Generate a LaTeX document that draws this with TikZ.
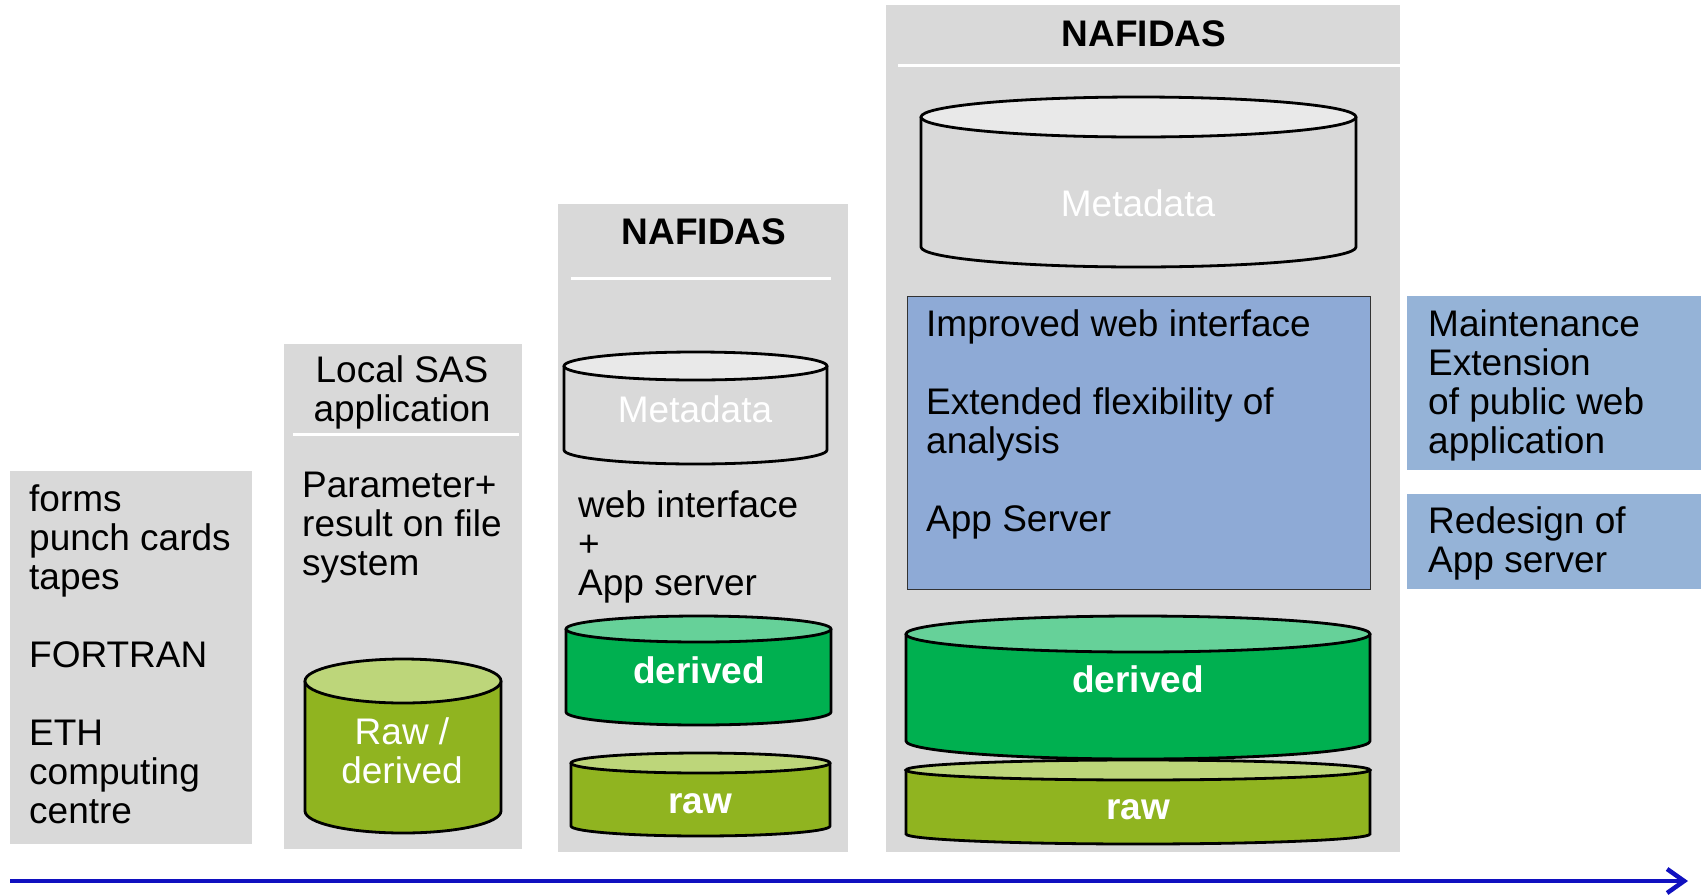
\documentclass[tikz,border=0pt]{standalone}
\usepackage{fontspec}
\setmainfont{Liberation Sans}
\usetikzlibrary{arrows.meta}
\definecolor{boxgray}{HTML}{D9D9D9}
\definecolor{metatop}{HTML}{E9E9E9}
\definecolor{derbody}{HTML}{00B050}
\definecolor{dertop}{HTML}{66D199}
\definecolor{rawbody}{HTML}{90B420}
\definecolor{rawtop}{HTML}{BDD67A}
\definecolor{midblue}{HTML}{8EAAD6}
\definecolor{sideblue}{HTML}{95B3D7}
\definecolor{timeblue}{HTML}{1010C0}
\newcommand{\fs}{\fontsize{37}{39}\selectfont}
\newcommand{\st}{\rule{0pt}{30pt}}
% xl xr yc ry yb body top
\newcommand{\dbcyl}[7]{%
  \pgfmathsetmacro\cylcx{(#1+#2)/2}%
  \pgfmathsetmacro\cylrx{(#2-#1)/2}%
  \fill[#6] (#1,#3) -- (#1,#5) arc[start angle=180,end angle=360,x radius=\cylrx pt,y radius=#4 pt] -- (#2,#3) -- cycle;
  \draw[cylline] (#1,#3) -- (#1,#5) arc[start angle=180,end angle=360,x radius=\cylrx pt,y radius=#4 pt] -- (#2,#3);
  \filldraw[cylline,fill=#7] (\cylcx,#3) ellipse[x radius=\cylrx pt,y radius=#4 pt];
}
\begin{document}
\begin{tikzpicture}[x=1pt,y=-1pt,
  cylline/.style={draw=black,line width=2.8pt},
  panel/.style={fill=boxgray},
  rule/.style={draw=white,line width=3pt},
  txt/.style={anchor=north west,inner sep=0pt,align=left,font=\fs,text=black},
  ctxt/.style={anchor=north,inner sep=0pt,align=center,font=\fs,text=black},
  wtxt/.style={anchor=north,inner sep=0pt,align=center,font=\fs,text=white},
  wbold/.style={anchor=north,inner sep=0pt,align=center,font=\fs\bfseries,text=white},
  title/.style={anchor=north,inner sep=0pt,align=center,font=\fs\bfseries,text=black}]
\useasboundingbox (0,0) rectangle (1701,895);
\fill[white] (0,0) rectangle (1701,895);

% panels
\fill[panel] (10,471) rectangle (252,844);
\fill[panel] (284,344) rectangle (522,849);
\fill[panel] (558,204) rectangle (848,852);
\fill[panel] (886,5) rectangle (1400,852);
\draw[rule] (293,434) -- (519,434);
\draw[rule] (571,278) -- (831,278);
\draw[rule] (898,65) -- (1400,65);

% blue boxes
\filldraw[fill=midblue,draw=black!80,line width=0.8pt] (907,296) rectangle (1370,589);
\fill[sideblue] (1407,296) rectangle (1701,470);
\fill[sideblue] (1407,494) rectangle (1701,589);

% cylinders
\dbcyl{305}{501}{681}{22}{811}{rawbody}{rawtop}
\dbcyl{564}{827}{366}{14}{450}{boxgray}{metatop}
\dbcyl{566}{831}{629}{13}{712}{derbody}{dertop}
\dbcyl{571}{830}{763}{10}{826}{rawbody}{rawtop}
\dbcyl{921}{1356}{117}{20}{247}{boxgray}{metatop}
\dbcyl{906}{1370}{770}{10}{834}{rawbody}{rawtop}
\dbcyl{906}{1370}{634}{18}{741}{derbody}{dertop}

% texts
\node[txt] (early) at (29,481) {\st forms\\punch cards\\tapes\\[39pt]FORTRAN\\[39pt]ETH\\computing\\centre};
\node[ctxt] (sastitle) at (402,352) {\st Local SAS\\application};
\node[txt] (sasbody) at (302,467) {\st Parameter+\\result on file\\system};
\node[wtxt] (sasdb) at (402,714) {\st Raw /\\derived};

\node[title] (naf1) at (704,214) {\st NAFIDAS};
\node[wtxt] (meta1) at (695,392) {\st Metadata};
\node[txt] (web1) at (578,487) {\st web interface\\+\\App server};
\node[wbold] (der1) at (699,653) {\st derived};
\node[wbold] (raw1) at (700,783) {\st raw};

\node[title] (naf2) at (1144,16) {\st NAFIDAS};
\node[wtxt] (meta2) at (1138,186) {\st Metadata};
\node[txt] (web2) at (926,306) {\st Improved web interface\\[39pt]Extended flexibility of\\analysis\\[39pt]App Server};
\node[wbold] (der2) at (1138,662) {\st derived};
\node[wbold] (raw2) at (1138,789) {\st raw};

\node[txt] (maint) at (1428,306) {\st Maintenance\\Extension\\of public web\\application};
\node[txt] (redes) at (1428,503) {\st Redesign of\\App server};

% time axis
\coordinate (tstart) at (10,881);
\coordinate (tend) at (1688,881);
\draw[timeblue,line width=4pt,-{Straight Barb[length=17pt,width=24pt,line width=4.5pt]}] (tstart) -- (tend);
\end{tikzpicture}
\end{document}
